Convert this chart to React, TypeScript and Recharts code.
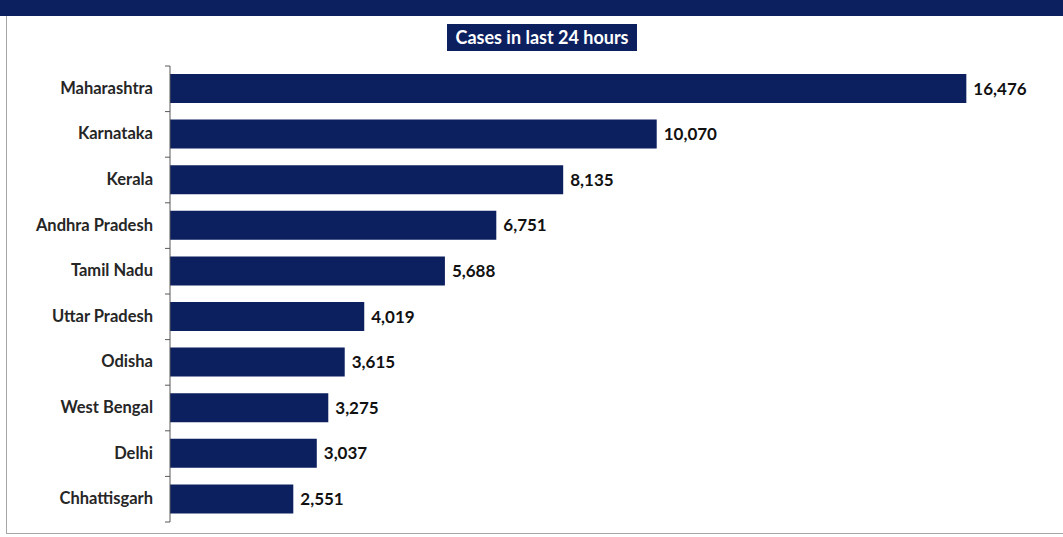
import React from "react";
import { BarChart, Bar, XAxis, YAxis, LabelList } from "recharts";

const states = [
  "Maharashtra",
  "Karnataka",
  "Kerala",
  "Andhra Pradesh",
  "Tamil Nadu",
  "Uttar Pradesh",
  "Odisha",
  "West Bengal",
  "Delhi",
  "Chhattisgarh",
];
const cases = [16476, 10070, 8135, 6751, 5688, 4019, 3615, 3275, 3037, 2551];

const data = states.map((s, i) => ({ state: s, cases: cases[i] }));

const NAVY = "#0c1f5e";
const FONT = "Lato, 'Open Sans', sans-serif";

function StateTick(props: any) {
  const { x, y, payload, index } = props;
  const half = 45.6 / 2;
  return (
    <g>
      <line x1={x - 5} x2={x} y1={y - half} y2={y - half} stroke="#595959" />
      {index === states.length - 1 && (
        <line x1={x - 5} x2={x} y1={y + half} y2={y + half} stroke="#595959" />
      )}
      <text
        x={x - 17}
        y={y}
        dy={5}
        textAnchor="end"
        fontFamily={FONT}
        fontWeight={700}
        fontSize={16.5}
        fill="#262626"
      >
        {payload.value}
      </text>
    </g>
  );
}

export default function App() {
  return (
    <div
      style={{
        position: "absolute",
        left: 0,
        top: 0,
        width: 1063,
        height: 537,
        background: "#fff",
        overflow: "hidden",
      }}
    >
      <div style={{ position: "absolute", left: 0, top: 0, width: 1063, height: 16, background: NAVY }} />
      <div style={{ position: "absolute", left: 6, top: 16, width: 1, height: 517, background: "#a6a6a6" }} />
      <div style={{ position: "absolute", left: 6, top: 533, width: 1057, height: 1, background: "#a6a6a6" }} />
      <div
        style={{
          position: "absolute",
          left: 447,
          top: 24,
          width: 190,
          height: 27,
          background: NAVY,
          color: "#fff",
          fontFamily: FONT,
          fontWeight: 700,
          fontSize: 18,
          lineHeight: "27px",
          textAlign: "center",
          whiteSpace: "nowrap",
        }}
      >
        Cases in last 24 hours
      </div>
      <div style={{ position: "absolute", left: 0, top: 0 }}>
        <BarChart
          width={1063}
          height={537}
          data={data}
          layout="vertical"
          margin={{ top: 66, right: 23, bottom: 15, left: 0 }}
          barSize={29}
        >
          <XAxis type="number" domain={[0, 18000]} hide />
          <YAxis
            type="category"
            dataKey="state"
            width={170}
            tickLine={false}
            tickSize={0}
            tickMargin={0}
            axisLine={{ stroke: "#595959" }}
            tick={<StateTick />}
            interval={0}
          />
          <Bar dataKey="cases" fill={NAVY} isAnimationActive={false}>
            <LabelList
              dataKey="cases"
              position="right"
              offset={7}
              formatter={(v: any) => Number(v).toLocaleString("en-US")}
              style={{ fontFamily: FONT, fontWeight: 700, fontSize: 17, fill: "#111111" }}
            />
          </Bar>
        </BarChart>
      </div>
    </div>
  );
}
